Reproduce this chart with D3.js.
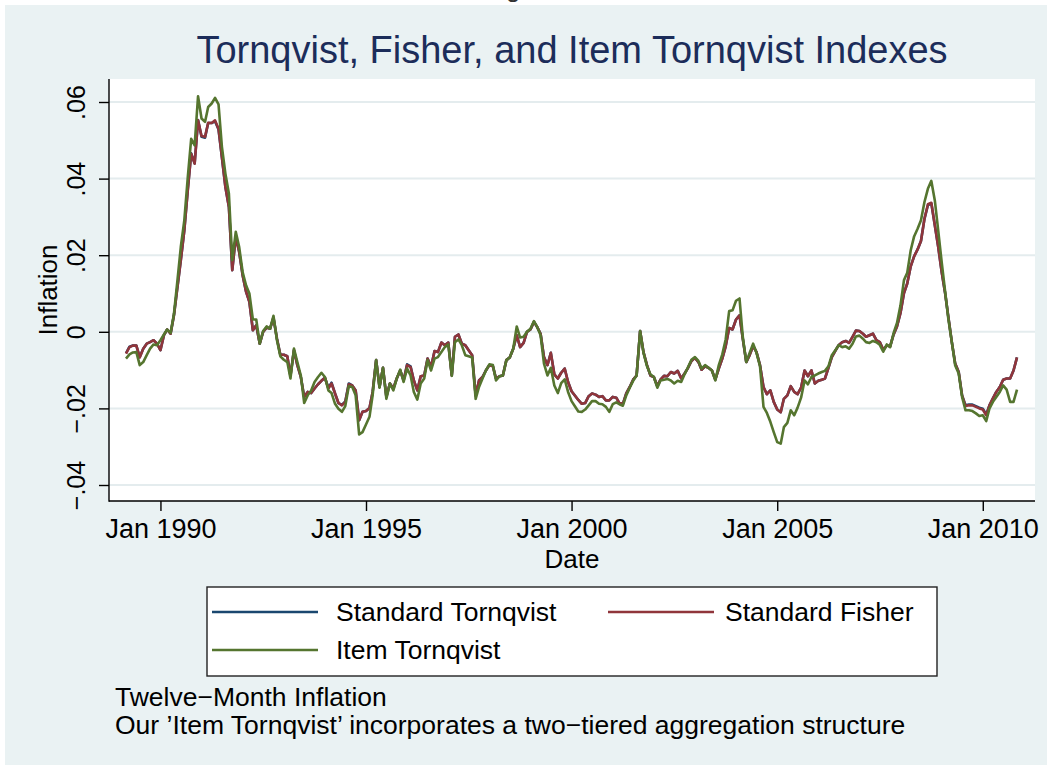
<!DOCTYPE html>
<meta charset="utf-8">
<head>
    <script type="text/javascript" src="https://cdn.jsdelivr.net/npm/d3@7/dist/d3.min.js"></script>
    <style>
        body { margin: 0; background: #fff; }
        text { font-family: "Liberation Sans", Arial, Helvetica, sans-serif; }
    </style>
    <title>Tornqvist, Fisher, and Item Tornqvist Indexes</title>
</head>

<body>
    <div id="chart"></div>

    <script type="text/javascript">

        // months: Mar 1989 .. Nov 2010 (twelve-month inflation, one value per month)
        var firstMonth = new Date(Date.UTC(1989, 2, 1));
        var lastMonth = new Date(Date.UTC(2010, 10, 1));
        var months = d3.utcMonth.range(firstMonth, d3.utcMonth.offset(lastMonth, 1));

        var xTickYears = [1990, 1995, 2000, 2005, 2010];
        var yTicks = [-0.04, -0.02, 0, 0.02, 0.04, 0.06];
        var yTickLabels = ["\u2212.04", "\u2212.02", "0", ".02", ".04", ".06"];

        var seriesNames = ["Standard Tornqvist", "Standard Fisher", "Item Tornqvist"];

        var standardTornqvist = [
            -.0056,-.0039,-.0036,-.0036,-.0066,-.0044,-.0031,-.0027,-.0022,-.0031,
            -.0048,-.0009,.0006,-.0005,.0043,.0117,.0187,.0265,.0371,.0466,
            .0440,.0553,.0509,.0507,.0545,.0545,.0550,.0528,.0455,.0378,
            .0326,.0161,.0248,.0209,.0148,.0104,.0078,.0004,.0017,-.0031,
            .0000,.0011,.0008,.0037,-.0018,-.0060,-.0060,-.0064,-.0115,-.0048,
            -.0087,-.0118,-.0170,-.0157,-.0160,-.0148,-.0137,-.0128,-.0120,-.0146,
            -.0133,-.0161,-.0186,-.0191,-.0182,-.0135,-.0140,-.0153,-.0231,-.0209,
            -.0207,-.0199,-.0157,-.0074,-.0144,-.0094,-.0170,-.0135,-.0148,-.0122,
            -.0101,-.0127,-.0085,-.0090,-.0127,-.0153,-.0116,-.0114,-.0070,-.0092,
            -.0050,-.0053,-.0028,-.0035,-.0028,-.0114,-.0013,-.0007,-.0031,-.0035,
            -.0048,-.0061,-.0166,-.0127,-.0118,-.0101,-.0087,-.0090,-.0122,-.0116,
            -.0114,-.0074,-.0067,-.0044,-.0009,-.0040,-.0029,.0000,.0006,.0026,
            .0013,-.0005,-.0066,-.0087,-.0055,-.0111,-.0122,-.0107,-.0096,-.0131,
            -.0155,-.0167,-.0178,-.0188,-.0186,-.0168,-.0161,-.0164,-.0170,-.0168,
            -.0179,-.0179,-.0170,-.0172,-.0186,-.0188,-.0161,-.0144,-.0125,-.0114,
            .0002,-.0053,-.0087,-.0114,-.0118,-.0142,-.0125,-.0115,-.0116,-.0105,
            -.0109,-.0102,-.0122,-.0109,-.0094,-.0076,-.0068,-.0079,-.0099,-.0090,
            -.0094,-.0101,-.0125,-.0096,-.0070,-.0038,.0010,.0006,.0032,.0043,
            -.0018,-.0079,-.0061,-.0037,-.0053,-.0087,-.0144,-.0163,-.0153,-.0183,
            -.0203,-.0210,-.0175,-.0166,-.0142,-.0157,-.0163,-.0146,-.0101,-.0116,
            -.0101,-.0135,-.0128,-.0125,-.0122,-.0094,-.0066,-.0050,-.0035,-.0027,
            -.0024,-.0029,-.0013,.0003,.0002,-.0005,-.0013,-.0009,-.0005,-.0022,
            -.0027,-.0047,-.0036,-.0038,-.0007,.0014,.0049,.0101,.0126,.0171,
            .0197,.0215,.0237,.0295,.0331,.0335,.0278,.0222,.0156,.0100,
            .0039,-.0027,-.0083,-.0105,-.0166,-.0192,-.0190,-.0190,-.0194,-.0198,
            -.0201,-.0216,-.0192,-.0174,-.0157,-.0144,-.0125,-.0122,-.0122,-.0101,
            -.0067
        ];

        var standardFisher = [
            -.0057,-.0040,-.0036,-.0036,-.0067,-.0044,-.0031,-.0027,-.0022,-.0031,
            -.0048,-.0009,.0006,-.0005,.0043,.0117,.0187,.0265,.0370,.0465,
            .0439,.0552,.0511,.0509,.0546,.0545,.0552,.0530,.0456,.0378,
            .0326,.0161,.0248,.0209,.0148,.0104,.0078,.0004,.0017,-.0031,
            .0000,.0011,.0008,.0037,-.0018,-.0060,-.0060,-.0064,-.0115,-.0048,
            -.0087,-.0118,-.0170,-.0157,-.0160,-.0148,-.0137,-.0128,-.0120,-.0148,
            -.0135,-.0161,-.0186,-.0192,-.0183,-.0137,-.0140,-.0153,-.0231,-.0209,
            -.0207,-.0199,-.0157,-.0074,-.0144,-.0094,-.0170,-.0135,-.0148,-.0122,
            -.0101,-.0127,-.0087,-.0092,-.0127,-.0153,-.0116,-.0114,-.0070,-.0092,
            -.0050,-.0053,-.0028,-.0035,-.0028,-.0114,-.0013,-.0007,-.0031,-.0035,
            -.0048,-.0061,-.0166,-.0127,-.0118,-.0101,-.0087,-.0090,-.0122,-.0116,
            -.0114,-.0074,-.0067,-.0044,-.0009,-.0040,-.0029,.0000,.0006,.0026,
            .0013,-.0005,-.0066,-.0087,-.0055,-.0111,-.0122,-.0107,-.0096,-.0131,
            -.0155,-.0167,-.0178,-.0188,-.0186,-.0168,-.0161,-.0164,-.0170,-.0168,
            -.0179,-.0179,-.0170,-.0172,-.0186,-.0188,-.0161,-.0144,-.0125,-.0114,
            .0002,-.0053,-.0087,-.0114,-.0118,-.0142,-.0125,-.0115,-.0116,-.0105,
            -.0109,-.0102,-.0122,-.0109,-.0094,-.0076,-.0068,-.0079,-.0099,-.0090,
            -.0094,-.0101,-.0125,-.0096,-.0070,-.0038,.0010,.0006,.0032,.0043,
            -.0018,-.0079,-.0061,-.0037,-.0053,-.0087,-.0144,-.0163,-.0153,-.0183,
            -.0203,-.0210,-.0175,-.0166,-.0142,-.0157,-.0163,-.0146,-.0101,-.0116,
            -.0101,-.0135,-.0128,-.0125,-.0122,-.0094,-.0066,-.0050,-.0035,-.0027,
            -.0024,-.0029,-.0013,.0003,.0002,-.0005,-.0013,-.0009,-.0005,-.0022,
            -.0027,-.0047,-.0036,-.0038,-.0007,.0014,.0049,.0101,.0126,.0171,
            .0197,.0215,.0237,.0295,.0333,.0337,.0278,.0222,.0156,.0100,
            .0039,-.0027,-.0083,-.0105,-.0166,-.0194,-.0192,-.0192,-.0196,-.0200,
            -.0203,-.0218,-.0192,-.0174,-.0157,-.0144,-.0125,-.0122,-.0122,-.0101,
            -.0067
        ];

        var itemTornqvist = [
            -.0070,-.0059,-.0054,-.0053,-.0087,-.0079,-.0061,-.0044,-.0033,-.0035,
            -.0022,-.0007,.0006,-.0003,.0047,.0134,.0222,.0291,.0404,.0504,
            .0487,.0615,.0557,.0548,.0587,.0596,.0611,.0594,.0483,.0413,
            .0361,.0187,.0261,.0222,.0156,.0121,.0100,.0032,.0032,-.0031,
            .0002,.0014,.0008,.0042,-.0022,-.0064,-.0073,-.0079,-.0122,-.0044,
            -.0079,-.0114,-.0186,-.0166,-.0153,-.0131,-.0118,-.0107,-.0118,-.0153,
            -.0160,-.0188,-.0201,-.0209,-.0194,-.0142,-.0144,-.0166,-.0268,-.0262,
            -.0242,-.0222,-.0166,-.0074,-.0146,-.0094,-.0175,-.0135,-.0153,-.0122,
            -.0099,-.0131,-.0096,-.0114,-.0157,-.0177,-.0135,-.0122,-.0074,-.0101,
            -.0070,-.0066,-.0053,-.0040,-.0033,-.0115,-.0027,-.0020,-.0035,-.0061,
            -.0064,-.0067,-.0175,-.0144,-.0122,-.0101,-.0085,-.0087,-.0127,-.0116,
            -.0114,-.0074,-.0067,-.0044,.0014,-.0015,-.0013,.0000,.0008,.0028,
            .0013,-.0009,-.0083,-.0114,-.0094,-.0140,-.0160,-.0134,-.0124,-.0157,
            -.0181,-.0195,-.0208,-.0209,-.0203,-.0192,-.0181,-.0181,-.0188,-.0189,
            -.0196,-.0209,-.0189,-.0184,-.0189,-.0193,-.0166,-.0146,-.0128,-.0114,
            .0002,-.0055,-.0090,-.0111,-.0118,-.0146,-.0127,-.0125,-.0123,-.0127,
            -.0135,-.0128,-.0131,-.0111,-.0092,-.0073,-.0066,-.0076,-.0096,-.0087,
            -.0094,-.0101,-.0127,-.0087,-.0059,-.0020,.0054,.0056,.0081,.0087,
            -.0013,-.0079,-.0055,-.0031,-.0055,-.0090,-.0196,-.0212,-.0235,-.0262,
            -.0288,-.0292,-.0249,-.0238,-.0205,-.0218,-.0198,-.0172,-.0127,-.0137,
            -.0118,-.0114,-.0109,-.0105,-.0102,-.0090,-.0061,-.0048,-.0035,-.0040,
            -.0038,-.0044,-.0031,-.0012,-.0010,-.0018,-.0027,-.0029,-.0024,-.0027,
            -.0034,-.0052,-.0033,-.0040,-.0003,.0023,.0069,.0135,.0154,.0213,
            .0249,.0269,.0291,.0339,.0374,.0394,.0343,.0265,.0182,.0104,
            .0034,-.0027,-.0088,-.0109,-.0170,-.0205,-.0205,-.0207,-.0213,-.0220,
            -.0218,-.0233,-.0201,-.0183,-.0170,-.0157,-.0140,-.0151,-.0183,-.0183,
            -.0151
        ];

        // Stata s2color look
        var colors = ["#1a476f", "#90353b", "#55752f"];
        var bgColor = "#eaf2f3";
        var gridColor = "#e4ecee";
        var titleColor = "#1c2d5a";

        var w = 1047;
        var h = 769;
        var plot = {left: 109, right: 1035, top: 79, bottom: 501};

        var svg = d3.select("#chart")
                    .append("svg")
                    .attr("width", w)
                    .attr("height", h);

        // cropped caption fragment at the very top of the page
        svg.append("text")
           .attr("x", 506).attr("y", -3)
           .style("font-size", "26px").style("fill", "#333")
           .text("g");

        // graph region
        svg.append("rect")
           .attr("x", 5).attr("y", 5)
           .attr("width", w - 5).attr("height", h - 9)
           .style("fill", bgColor);

        svg.append("rect")
           .attr("x", plot.left).attr("y", plot.top)
           .attr("width", plot.right - plot.left)
           .attr("height", plot.bottom - plot.top)
           .style("fill", "#fff");

        var x = d3.scaleUtc()
                  .domain([firstMonth, lastMonth])
                  .range([126, 1017]);

        var y = d3.scaleLinear()
                  .domain([-0.04, 0.06])
                  .range([485, 102]);

        // gridlines
        svg.append("g")
           .selectAll("line")
           .data(yTicks)
           .enter()
           .append("line")
           .attr("x1", plot.left).attr("x2", plot.right)
           .attr("y1", function(d) { return y(d); })
           .attr("y2", function(d) { return y(d); })
           .style("stroke", gridColor)
           .style("stroke-width", 2);

        // y axis
        var yAxis = d3.axisLeft(y)
                      .tickValues(yTicks)
                      .tickFormat(function(d, i) { return yTickLabels[i]; })
                      .tickSize(10)
                      .tickSizeOuter(0);

        var gy = svg.append("g")
                    .attr("transform", "translate(" + plot.left + ",0)")
                    .call(yAxis);
        gy.select(".domain").remove();
        gy.selectAll(".tick line").style("stroke", "#000").style("stroke-width", 1.4);
        gy.selectAll(".tick text")
          .attr("x", null).attr("dy", null)
          .attr("transform", "translate(-24,0) rotate(-90)")
          .style("text-anchor", "middle")
          .style("font-size", "25px")
          .style("fill", "#000");

        // x axis
        var xTicks = xTickYears.map(function(yr) { return new Date(Date.UTC(yr, 0, 1)); });
        var xAxis = d3.axisBottom(x)
                      .tickValues(xTicks)
                      .tickFormat(d3.utcFormat("Jan %Y"))
                      .tickSize(10)
                      .tickSizeOuter(0);

        var gx = svg.append("g")
                    .attr("transform", "translate(0," + plot.bottom + ")")
                    .call(xAxis);
        gx.select(".domain").remove();
        gx.selectAll(".tick line").style("stroke", "#000").style("stroke-width", 1.4);
        gx.selectAll(".tick text")
          .attr("y", 37).attr("dy", null)
          .style("font-size", "27px")
          .style("fill", "#000");

        // axis lines
        svg.append("line")
           .attr("x1", plot.left).attr("x2", plot.left)
           .attr("y1", plot.top).attr("y2", plot.bottom + 0.7)
           .style("stroke", "#000").style("stroke-width", 1.4);
        svg.append("line")
           .attr("x1", plot.left).attr("x2", plot.right)
           .attr("y1", plot.bottom).attr("y2", plot.bottom)
           .style("stroke", "#000").style("stroke-width", 1.4);

        // series, item tornqvist drawn last (on top)
        var series = [standardTornqvist, standardFisher, itemTornqvist];

        var line = d3.line()
                     .x(function(d, i) { return x(months[i]); })
                     .y(function(d) { return y(d); });

        svg.append("g")
           .selectAll("path")
           .data(series)
           .enter()
           .append("path")
           .attr("d", line)
           .style("fill", "none")
           .style("stroke", function(d, i) { return colors[i]; })
           .style("stroke-width", 2.6)
           .style("stroke-linejoin", "round");

        // titles
        svg.append("text")
           .attr("x", (plot.left + plot.right) / 2).attr("y", 63)
           .style("text-anchor", "middle")
           .style("font-size", "38px")
           .style("fill", titleColor)
           .text("Tornqvist, Fisher, and Item Tornqvist Indexes");

        svg.append("text")
           .attr("x", (plot.left + plot.right) / 2).attr("y", 568)
           .style("text-anchor", "middle")
           .style("font-size", "26px")
           .text("Date");

        svg.append("text")
           .attr("transform", "translate(57," + (plot.top + plot.bottom) / 2 + ") rotate(-90)")
           .style("text-anchor", "middle")
           .style("font-size", "26px")
           .text("Inflation");

        // legend
        var legend = svg.append("g");
        legend.append("rect")
              .attr("x", 207).attr("y", 587)
              .attr("width", 730).attr("height", 89)
              .style("fill", "#fff")
              .style("stroke", "#222")
              .style("stroke-width", 1.4);

        var legendPos = [[212, 612], [608, 612], [212, 650]];

        var items = legend.selectAll("g.item")
                          .data(seriesNames)
                          .enter()
                          .append("g")
                          .attr("class", "item")
                          .attr("transform", function(d, i) {
                              return "translate(" + legendPos[i][0] + "," + legendPos[i][1] + ")";
                          });
        items.append("line")
             .attr("x1", 0).attr("x2", 106)
             .style("stroke", function(d, i) { return colors[i]; })
             .style("stroke-width", 2.6);
        items.append("text")
             .attr("x", function(d, i) { return i == 1 ? 117 : 124; })
             .attr("y", 9)
             .style("font-size", "26.5px")
             .text(function(d) { return d; });

        // notes
        var notes = ["Twelve\u2212Month Inflation",
                     "Our \u2019Item Tornqvist\u2019 incorporates a two\u2212tiered aggregation structure"];
        svg.append("g")
           .selectAll("text")
           .data(notes)
           .enter()
           .append("text")
           .attr("x", 115)
           .attr("y", function(d, i) { return 706 + i * 28; })
           .style("font-size", "26.5px")
           .text(function(d) { return d; });

    </script>
</body>
</html>
